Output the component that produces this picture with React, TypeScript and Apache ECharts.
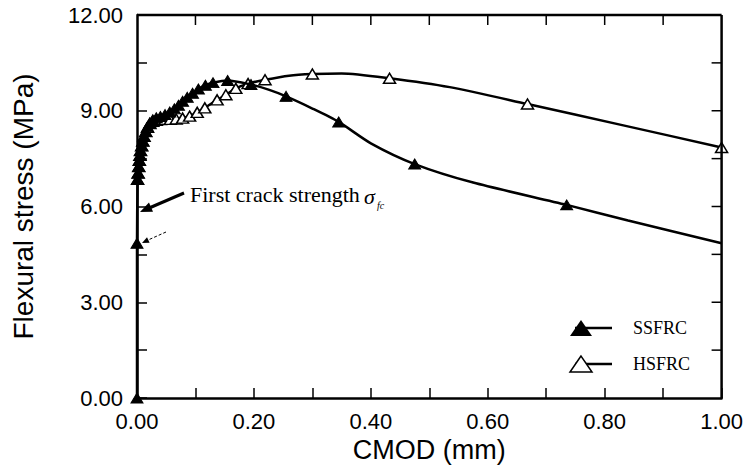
import React, { useEffect, useRef } from "react";
import * as echarts from "echarts";

// [CMOD (mm), flexural stress (MPa), marker shown (1) or not (0)]
const ssfrcPoints: [number, number, number][] = [
  [0, 0, 1], [0, 4.85, 1], [0.001, 6.85, 1], [0.002, 7.05, 1], [0.003, 7.25, 1],
  [0.004, 7.45, 1], [0.005, 7.6, 1], [0.006, 7.75, 1], [0.008, 7.9, 1], [0.01, 8.05, 1],
  [0.012, 8.2, 1], [0.015, 8.35, 1], [0.018, 8.5, 1], [0.022, 8.62, 1], [0.027, 8.72, 1],
  [0.033, 8.78, 1], [0.04, 8.82, 1], [0.048, 8.88, 1], [0.056, 8.96, 1], [0.064, 9.06, 1],
  [0.071, 9.17, 1], [0.078, 9.3, 1], [0.086, 9.42, 1], [0.095, 9.55, 1], [0.105, 9.68, 1],
  [0.117, 9.8, 1], [0.13, 9.88, 1], [0.155, 9.95, 1], [0.195, 9.82, 1], [0.225, 9.66, 0],
  [0.255, 9.45, 1], [0.3, 9.07, 0], [0.345, 8.65, 1], [0.4, 7.98, 0], [0.475, 7.33, 1],
  [0.575, 6.75, 0], [0.735, 6.05, 1], [0.84, 5.56, 0], [1.0, 4.85, 0],
];

const hsfrcPoints: [number, number, number][] = [
  [0.001, 6.85, 1], [0.002, 7.05, 1], [0.003, 7.25, 1], [0.004, 7.45, 1], [0.005, 7.6, 1],
  [0.006, 7.75, 1], [0.008, 7.9, 1], [0.01, 8.05, 1], [0.012, 8.2, 1], [0.015, 8.35, 1],
  [0.018, 8.48, 1], [0.022, 8.6, 1], [0.027, 8.67, 1], [0.033, 8.7, 1], [0.04, 8.72, 1],
  [0.048, 8.73, 1], [0.057, 8.73, 1], [0.067, 8.74, 1], [0.078, 8.77, 1], [0.09, 8.83, 1],
  [0.103, 8.95, 1], [0.116, 9.09, 1], [0.137, 9.34, 1], [0.152, 9.5, 1], [0.169, 9.7, 1],
  [0.19, 9.85, 1], [0.219, 9.97, 1], [0.26, 10.1, 0], [0.3, 10.15, 1], [0.35, 10.17, 0],
  [0.432, 10.02, 1], [0.535, 9.74, 0], [0.668, 9.21, 1], [0.83, 8.55, 0], [1.0, 7.85, 1],
];

const seriesNames = ["SSFRC", "HSFRC"];
const xRange = [0, 1];
const yRange = [0, 12];
const xLabelStep = 0.2;
const yLabelStep = 3;
// tick positions of the top and right frame edges
const xTickValues = [0.1, 0.2, 0.3, 0.4, 0.5, 0.6, 0.7, 0.8, 0.9];
const yTickValues = [1.5, 3, 4.5, 6, 7.5, 9, 10.5];

const toData = (pts: [number, number, number][]) =>
  pts.map((p) => ({ value: [p[0], p[1]], symbol: p[2] ? "triangle" : "none" }));

export default function App() {
  const ref = useRef<HTMLDivElement>(null);
  useEffect(() => {
    if (!ref.current) return;
    const chart = echarts.init(ref.current, null, { renderer: "svg" });
    const axisLine = () => ({ show: true, onZero: false, lineStyle: { color: "#000", width: 2.5 } });
    const tick = () => ({ show: true, inside: true, length: 10, lineStyle: { color: "#000", width: 1.5 } });
    const minor = () => ({ show: true, splitNumber: 2, length: 10, lineStyle: { color: "#000", width: 1.5 } });
    const sans = "Liberation Sans, Arial, sans-serif";
    const serif = "Liberation Serif, Times New Roman, serif";
    const tickLabel = () => ({
      color: "#000",
      fontFamily: sans,
      fontSize: 22,
      formatter: (v: number) => v.toFixed(2),
    });
    const legendY = [328, 364];
    const txt = (text: string, x: number, y: number, size: number, italic = false) => ({
      type: "text", x, y, z: 10,
      style: {
        text, fontFamily: serif, fontSize: size, fontStyle: italic ? "italic" : "normal",
        fill: "#000000", verticalAlign: "middle", align: "left",
      },
    });
    chart.setOption({
      animation: false,
      grid: { left: 137, right: 24, top: 15, bottom: 73 },
      xAxis: {
        type: "value", min: xRange[0], max: xRange[1], interval: xLabelStep,
        name: "CMOD (mm)", nameLocation: "middle", nameGap: 38,
        nameTextStyle: { color: "#000", fontFamily: sans, fontSize: 27 },
        axisLine: axisLine(), axisTick: tick(), minorTick: minor(), splitLine: { show: false },
        axisLabel: { ...tickLabel(), margin: 12 },
      },
      yAxis: {
        type: "value", min: yRange[0], max: yRange[1], interval: yLabelStep,
        name: "Flexural stress (MPa)", nameLocation: "middle", nameGap: 100,
        nameTextStyle: { color: "#000", fontFamily: sans, fontSize: 28 },
        axisLine: axisLine(), axisTick: tick(), minorTick: minor(), splitLine: { show: false },
        axisLabel: { ...tickLabel(), margin: 14 },
      },
      series: [
        {
          name: seriesNames[1], type: "line", data: toData(hsfrcPoints),
          smooth: 0.25, symbolSize: [12, 10],
          lineStyle: { color: "#000", width: 2.5 },
          itemStyle: { color: "#fff", borderColor: "#000", borderWidth: 1.5 },
          z: 2,
        },
        {
          name: seriesNames[0], type: "line", data: toData(ssfrcPoints),
          smooth: 0.25, symbolSize: [12, 10],
          lineStyle: { color: "#000", width: 2.5 },
          itemStyle: { color: "#000", borderColor: "#000", borderWidth: 1 },
          z: 3,
        },
      ],
    });

    // frame (top and right edges with inward ticks), placed through the axes' own scales
    const o = chart.convertToPixel({ gridIndex: 0 }, [xRange[0], yRange[0]]) as number[];
    const e = chart.convertToPixel({ gridIndex: 0 }, [xRange[1], yRange[1]]) as number[];
    const black = { stroke: "#000", lineWidth: 1.5 };
    const frame: any[] = [
      { type: "line", shape: { x1: o[0], y1: e[1], x2: e[0], y2: e[1] }, style: { stroke: "#000", lineWidth: 2.5 }, z: 20 },
      { type: "line", shape: { x1: e[0], y1: e[1], x2: e[0], y2: o[1] }, style: { stroke: "#000", lineWidth: 2.5 }, z: 20 },
      ...xTickValues.map((v) => {
        const px = chart.convertToPixel({ xAxisIndex: 0 }, v) as number;
        return { type: "line", shape: { x1: px, y1: e[1], x2: px, y2: e[1] + 10 }, style: black, z: 20 };
      }),
      ...yTickValues.map((v) => {
        const py = chart.convertToPixel({ yAxisIndex: 0 }, v) as number;
        return { type: "line", shape: { x1: e[0] - 10, y1: py, x2: e[0], y2: py }, style: black, z: 20 };
      }),
    ];

    chart.setOption({
      graphic: [
        ...frame,
        // annotation arrows
        { type: "line", shape: { x1: 184, y1: 193, x2: 148, y2: 208.5 }, style: { stroke: "#000", lineWidth: 3 }, z: 10 },
        { type: "polygon", shape: { points: [[140, 212], [153, 211.8], [149, 202.6]] }, style: { fill: "#000" }, z: 10 },
        { type: "line", shape: { x1: 166, y1: 232, x2: 147, y2: 240.5 }, style: { stroke: "#000", lineWidth: 1, lineDash: [3, 2] }, z: 10 },
        { type: "polygon", shape: { points: [[142, 243], [149.6, 242.7], [147, 237.3]] }, style: { fill: "#000" }, z: 10 },
        txt("First crack strength", 190, 194, 22),
        txt("σ", 364, 196, 22, true),
        txt("fc", 377, 205, 10, true),
        // legend
        { type: "line", shape: { x1: 575, y1: legendY[0], x2: 612, y2: legendY[0] }, style: { stroke: "#000", lineWidth: 2.5 }, z: 10 },
        { type: "polygon", shape: { points: [[581, legendY[0] - 8], [570, legendY[0] + 8], [592, legendY[0] + 8]] }, style: { fill: "#000" }, z: 11 },
        txt(seriesNames[0], 633, legendY[0], 18),
        { type: "line", shape: { x1: 575, y1: legendY[1], x2: 612, y2: legendY[1] }, style: { stroke: "#000", lineWidth: 2.5 }, z: 10 },
        { type: "polygon", shape: { points: [[581, legendY[1] - 8], [570, legendY[1] + 8], [592, legendY[1] + 8]] }, style: { fill: "#fff", stroke: "#000", lineWidth: 1.5 }, z: 11 },
        txt(seriesNames[1], 633, legendY[1], 18),
      ],
    });
    return () => chart.dispose();
  }, []);
  return <div ref={ref} style={{ width: 746, height: 471, position: "absolute", left: 0, top: 0, background: "#fff" }} />;
}
